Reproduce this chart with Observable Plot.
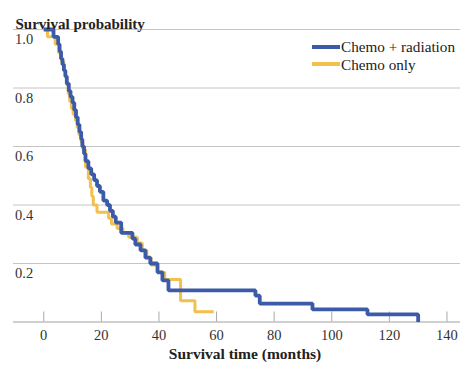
<!DOCTYPE html>
<html><head><meta charset="utf-8">
<script src="https://cdn.jsdelivr.net/npm/d3@7"></script>
<script src="https://cdn.jsdelivr.net/npm/@observablehq/plot@0.6"></script>
<style>
body{margin:0;background:#fff;}
#wrap{position:relative;width:474px;height:373px;}
#legend{position:absolute;left:312px;top:38px;font-family:"Liberation Serif","Times New Roman",serif;font-size:15.2px;line-height:17.5px;color:#222;}
.row{display:flex;align-items:center;height:17.5px;line-height:17.5px;white-space:nowrap;}
.sw{width:28px;height:4px;margin-right:1px;}
</style></head><body><div id="wrap"></div>
<script>
const seriesNames = ["Chemo + radiation", "Chemo only"];
const seriesColors = ["#3b5aa8", "#f2c04c"];

const blueMonths = [0, 3.4, 5, 5.5, 6, 6.5, 7, 7.5, 8, 8.7, 9.3, 10, 10.6, 11.2, 11.8, 12.4, 13, 13.4, 14, 14.5, 15.5, 16.5, 17.5, 18.5, 19.5, 20.7, 22, 23, 24, 25, 26.9, 30.8, 31.8, 33.6, 35.3, 37, 39.5, 41.2, 43.3, 73.5, 75, 93.3, 112.4, 130];
const blueSurv = [1.0, 0.975, 0.95, 0.925, 0.9, 0.88, 0.86, 0.84, 0.815, 0.79, 0.77, 0.75, 0.725, 0.7, 0.675, 0.65, 0.625, 0.6, 0.575, 0.55, 0.525, 0.505, 0.485, 0.465, 0.445, 0.415, 0.4, 0.38, 0.36, 0.34, 0.305, 0.285, 0.265, 0.245, 0.22, 0.2, 0.17, 0.142, 0.108, 0.09, 0.063, 0.043, 0.026, 0];

const yellowMonths = [0, 1.3, 4, 5.2, 6.2, 7, 7.6, 8, 8.5, 9, 9.6, 10.2, 11, 11.6, 12.2, 13, 13.6, 14.5, 15.5, 16.2, 16.7, 17.2, 18.5, 22.5, 23.5, 25.5, 27.5, 29.5, 32.5, 34.2, 35.8, 37.3, 39.5, 42, 47.5, 52.5, 59];
const yellowSurv = [1.0, 0.975, 0.95, 0.92, 0.89, 0.86, 0.835, 0.81, 0.78, 0.755, 0.73, 0.71, 0.69, 0.665, 0.64, 0.615, 0.59, 0.53, 0.49, 0.46, 0.43, 0.40, 0.375, 0.355, 0.335, 0.32, 0.305, 0.29, 0.27, 0.245, 0.22, 0.195, 0.17, 0.145, 0.073, 0.035, 0.035];

const xTicks = [0, 20, 40, 60, 80, 100, 120, 140];
const yTicks = [0.2, 0.4, 0.6, 0.8, 1.0];
const xLabel = "Survival time (months)";
const yLabel = "Survival probability";

const blue = blueMonths.map((m, i) => ({month: m, surv: blueSurv[i]}));
const yellow = yellowMonths.map((m, i) => ({month: m, surv: yellowSurv[i]}));

const font = '"Liberation Serif","Times New Roman",serif';

const chart = Plot.plot({
  width: 474, height: 373,
  marginLeft: 13, marginRight: 14, marginTop: 29, marginBottom: 51.5,
  style: {fontFamily: font, fontSize: "14.5px", color: "#333", background: "#fff"},
  x: {domain: [-10.5, 144.7], label: null},
  y: {domain: [0, 1], label: null},
  marks: [
    Plot.gridY(yTicks, {stroke: "#c4c4c4", strokeOpacity: 1}),
    Plot.ruleY([0], {stroke: "#a0a0a0"}),
    Plot.axisX(xTicks, {tickSize: -10, stroke: "#a8a8a8", tickFormat: () => "", label: null}),
    Plot.axisX(xTicks, {tickSize: 0, tickPadding: 8, label: null, fill: "#333"}),
    Plot.axisY(yTicks, {tickSize: 0, tickPadding: 0, textAnchor: "start", dx: 1.5, dy: 10, tickFormat: d3.format(".1f"), label: null, fill: "#333"}),
    Plot.line(yellow, {x: "month", y: "surv", curve: "step-after", stroke: seriesColors[1], strokeWidth: 3, strokeLinejoin: "miter", strokeLinecap: "butt"}),
    Plot.line(blue, {x: "month", y: "surv", curve: "step-after", stroke: seriesColors[0], strokeWidth: 3.8, strokeLinejoin: "miter", strokeLinecap: "butt"}),
    Plot.text([yLabel], {text: d => d, frameAnchor: "top-left", textAnchor: "start", dx: 2, dy: -11.2, fontWeight: "bold", fontSize: 15, fill: "#222"}),
    Plot.text([xLabel], {text: d => d, frameAnchor: "bottom", dx: 8, dy: 36.5, fontWeight: "bold", fontSize: 15.5, fill: "#222"})
  ]
});

const wrap = document.getElementById("wrap");
wrap.appendChild(chart);
const legend = document.createElement("div");
legend.id = "legend";
seriesNames.forEach((name, i) => {
  const row = document.createElement("div");
  row.className = "row";
  const sw = document.createElement("span");
  sw.className = "sw";
  sw.style.background = seriesColors[i];
  const t = document.createElement("span");
  t.textContent = name;
  row.appendChild(sw); row.appendChild(t);
  legend.appendChild(row);
});
wrap.appendChild(legend);
</script></body></html>
